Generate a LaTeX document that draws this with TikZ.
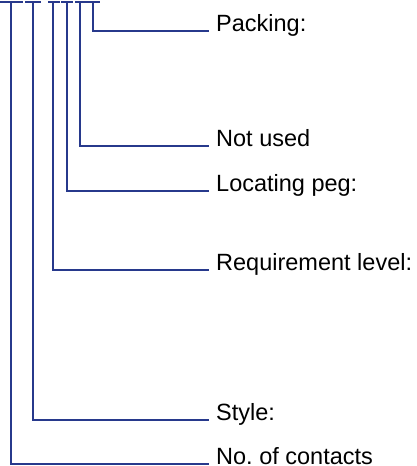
\documentclass[tikz,border=0pt]{standalone}
\usepackage{fontspec}
\setmainfont{Liberation Sans}
\usepackage{tikz}
\usetikzlibrary{positioning}
\definecolor{codeBlue}{HTML}{27398C}
\frenchspacing

\begin{document}
\begin{tikzpicture}[x=1pt, y=-1pt, line cap=butt,
    codebar/.style={draw=codeBlue, line width=2pt},
    fieldlbl/.style={anchor=base west, inner xsep=7pt, inner ysep=0pt, font=\fontsize{23.5}{28}\selectfont}]

  \useasboundingbox (0,0) rectangle (416,466);

  % labels of the code fields
  \node[fieldlbl] (pack)  at (209,31)  {Packing:};
  \node[fieldlbl] (nu)    at (209,146) {Not used};
  \node[fieldlbl] (peg)   at (209,191) {Locating peg:};
  \node[fieldlbl] (req)   at (209,270) {Requirement level:};
  \node[fieldlbl] (style) at (209,420) {Style:};
  \node[fieldlbl] (cont)  at (209,464) {No. of contacts};

  % one bar per code position, then a leader down to its label
  \foreach \l/\r/\m/\t in {0/23/11/cont, 25/41/33/style, 48/60/53/req,
                           61/73/67/peg, 75/87/80/nu, 87/100/93/pack} {
    \draw[codebar] (\l,2) -- (\r,2);
    \coordinate (top-\t) at (\m,2);
    \draw[codebar] (top-\t) |- (\t.base west);
  }
\end{tikzpicture}
\end{document}
